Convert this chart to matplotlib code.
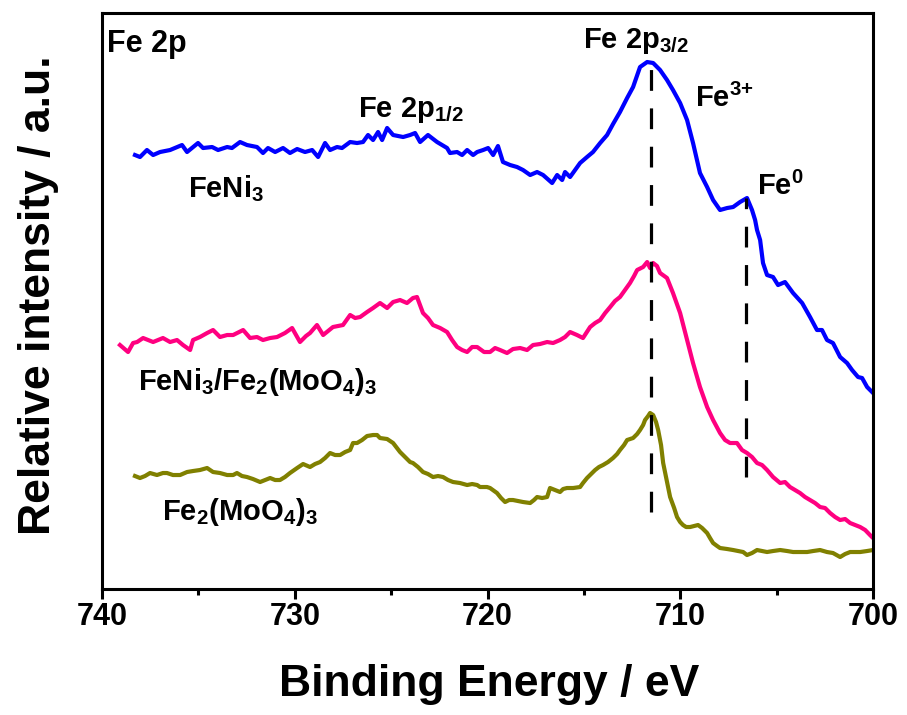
import numpy as np
import matplotlib
matplotlib.use("Agg")
import matplotlib.pyplot as plt

plt.rcParams['font.family'] = ['Liberation Sans', 'DejaVu Sans']
plt.rcParams['font.weight'] = 'bold'
plt.rcParams['mathtext.fontset'] = 'custom'
plt.rcParams['mathtext.rm'] = 'Liberation Sans:bold'
plt.rcParams['mathtext.bf'] = 'Liberation Sans:bold'
plt.rcParams['mathtext.default'] = 'bf'

# --- data (binding energy in eV, intensity in a.u.) ---
feni3_be = [738.29, 738.03, 737.67, 737.35, 736.99, 736.47, 735.85, 735.59, 735.02, 734.76,
            734.29, 733.98, 733.51, 733.26, 732.84, 732.48, 731.96, 731.65, 731.39, 731.02,
            730.61, 730.25, 729.88, 729.47, 729.10, 728.79, 728.43, 728.17, 727.81, 727.55,
            727.13, 726.77, 726.46, 726.20, 725.94, 725.68, 725.47, 725.21, 724.90, 724.38,
            724.02, 723.76, 723.50, 723.09, 722.62, 722.10, 721.95, 721.58, 721.32, 721.06,
            720.75, 720.54, 720.23, 719.97, 719.71, 719.46, 719.20, 718.83, 718.47, 718.16,
            717.79, 717.43, 717.12, 716.65, 716.39, 716.13, 715.98, 715.72, 715.46, 715.20,
            714.84, 714.53, 714.16, 713.80, 713.49, 713.13, 712.76, 712.45, 712.09, 711.72,
            711.41, 711.05, 710.69, 710.38, 710.01, 709.65, 709.34, 708.98, 708.61, 708.30,
            707.94, 707.57, 707.26, 706.90, 706.54, 706.28, 706.12, 706.02, 705.86, 705.71,
            705.50, 705.19, 704.93, 704.57, 704.15, 703.68, 703.27, 702.91, 702.65, 702.39,
            702.08, 701.71, 701.35, 701.09, 700.78, 700.57, 700.31, 700.00]
feni3_int = [434, 432, 439, 434, 437, 439, 444, 437, 446, 441,
             442, 439, 442, 441, 447, 444, 442, 436, 441, 437,
             441, 436, 440, 437, 439, 432, 446, 439, 442, 441,
             447, 446, 447, 454, 449, 457, 449, 461, 454, 452,
             454, 456, 447, 454, 447, 441, 436, 437, 434, 439,
             434, 437, 439, 441, 434, 443, 427, 424, 422, 419,
             414, 417, 414, 406, 414, 409, 417, 412, 419, 426,
             432, 437, 446, 454, 465, 477, 491, 502, 522, 527,
             526, 519, 509, 499, 486, 469, 446, 416, 402, 389,
             379, 381, 382, 387, 391, 379, 369, 359, 349, 326,
             314, 312, 304, 307, 296, 286, 272, 259, 259, 249,
             246, 232, 226, 219, 212, 211, 202, 196]

composite_be = [739.07, 738.65, 738.39, 738.18, 737.87, 737.35, 736.84, 736.47, 736.11, 735.80,
                735.43, 735.28, 734.92, 734.55, 734.24, 733.88, 733.51, 733.20, 732.68, 732.32,
                731.96, 731.65, 731.28, 730.92, 730.51, 730.14, 729.73, 729.42, 729.21, 728.85,
                728.53, 728.02, 727.50, 727.13, 726.87, 726.61, 726.25, 725.94, 725.58, 725.21,
                724.90, 724.54, 724.18, 723.87, 723.66, 723.35, 723.09, 722.83, 722.46, 722.10,
                721.84, 721.58, 721.32, 721.06, 720.80, 720.54, 720.18, 719.87, 719.61, 719.35,
                718.99, 718.68, 718.31, 717.95, 717.64, 717.28, 716.91, 716.60, 716.24, 715.98,
                715.72, 715.36, 715.05, 714.68, 714.42, 714.16, 713.90, 713.64, 713.39, 713.13,
                712.87, 712.61, 712.40, 712.24, 711.93, 711.72, 711.57, 711.41, 711.21, 711.05,
                710.69, 710.38, 710.01, 709.65, 709.34, 708.98, 708.61, 708.30, 707.94, 707.68,
                707.42, 707.06, 706.80, 706.54, 706.28, 706.02, 705.76, 705.50, 705.19, 704.82,
                704.57, 704.31, 704.05, 703.79, 703.53, 703.27, 703.01, 702.75, 702.49, 702.23,
                701.97, 701.71, 701.45, 701.19, 700.93, 700.67, 700.41, 700.16, 700.00]
composite_int = [244, 237, 246, 247, 251, 247, 251, 247, 249, 244,
                 239, 249, 252, 256, 259, 252, 254, 254, 259, 251,
                 252, 249, 251, 252, 256, 261, 247, 253, 256, 264,
                 254, 262, 264, 274, 271, 272, 277, 281, 286, 281,
                 287, 289, 286, 291, 292, 276, 271, 264, 261, 257,
                 249, 242, 239, 237, 242, 242, 237, 237, 241, 239,
                 236, 240, 241, 239, 244, 245, 247, 246, 249, 252,
                 257, 254, 251, 262, 266, 269, 276, 282, 288, 292,
                 299, 306, 313, 319, 322, 327, 321, 326, 323, 316,
                 311, 296, 276, 249, 226, 202, 182, 169, 156, 149,
                 146, 146, 139, 136, 132, 126, 124, 119, 112, 106,
                 107, 102, 99, 96, 92, 89, 86, 82, 81, 76,
                 72, 69, 70, 66, 64, 62, 59, 54, 51]

femoo_be = [738.29, 738.03, 737.77, 737.51, 737.15, 736.84, 736.63, 736.32, 735.95, 735.59,
            735.28, 734.92, 734.55, 734.24, 733.88, 733.51, 733.20, 733.00, 732.74, 732.48,
            732.17, 731.80, 731.54, 731.28, 731.02, 730.77, 730.51, 730.25, 729.88, 729.57,
            729.21, 728.95, 728.69, 728.43, 728.17, 727.91, 727.65, 727.39, 727.13, 726.98,
            726.77, 726.51, 726.25, 725.94, 725.73, 725.58, 725.21, 724.90, 724.54, 724.28,
            724.02, 723.87, 723.61, 723.35, 723.09, 722.83, 722.57, 722.31, 722.05, 721.79,
            721.43, 721.06, 720.80, 720.54, 720.39, 720.03, 719.87, 719.51, 719.30, 719.09,
            718.88, 718.68, 718.42, 718.16, 717.79, 717.59, 717.43, 717.17, 716.91, 716.76,
            716.50, 716.24, 716.08, 715.88, 715.56, 715.20, 715.05, 714.84, 714.63, 714.42,
            714.22, 714.01, 713.75, 713.49, 713.28, 713.13, 712.92, 712.76, 712.61, 712.45,
            712.24, 712.09, 711.93, 711.83, 711.67, 711.57, 711.41, 711.26, 711.15, 711.00,
            710.89, 710.69, 710.53, 710.32, 710.17, 710.01, 709.86, 709.70, 709.49, 709.29,
            709.08, 708.87, 708.61, 708.46, 708.30, 708.09, 707.94, 707.57, 707.26, 707.00,
            706.74, 706.54, 706.28, 706.02, 705.76, 705.50, 705.19, 704.82, 704.46, 704.15,
            703.79, 703.42, 703.11, 702.75, 702.39, 702.08, 701.71, 701.45, 701.19, 700.93,
            700.67, 700.31, 700.00]
femoo_int = [113, 111, 113, 116, 114, 116, 116, 114, 114, 117,
             118, 119, 121, 117, 116, 114, 114, 116, 113, 112,
             110, 107, 109, 111, 109, 109, 112, 116, 121, 125,
             122, 125, 127, 131, 136, 134, 134, 137, 139, 146,
             146, 149, 153, 154, 154, 151, 150, 146, 137, 132,
             127, 126, 122, 117, 115, 112, 113, 112, 109, 107,
             106, 104, 105, 104, 102, 102, 101, 96, 91, 87,
             89, 89, 88, 87, 86, 89, 92, 91, 92, 101,
             99, 97, 100, 101, 101, 102, 106, 111, 115, 119,
             122, 124, 127, 131, 135, 139, 144, 149, 150, 151,
             155, 159, 164, 169, 173, 176, 174, 167, 159, 144,
             126, 107, 92, 81, 72, 67, 64, 62, 62, 63,
             64, 61, 56, 51, 46, 43, 41, 40, 39, 38,
             37, 34, 36, 39, 38, 37, 38, 39, 38, 37,
             37, 37, 38, 39, 37, 36, 32, 35, 37, 37,
             37, 38, 39]

# peak markers: (position, top, bottom)
peak_be = [711.5, 706.6]
peak_top = [527, 391]
peak_bottom = [77, 112]

fig = plt.figure(figsize=(9.07, 7.15), dpi=100)
ax = fig.add_axes([0.1125, 0.1762, 0.8501, 0.8056])

ax.plot(feni3_be, feni3_int, color='#0000ff', lw=3)
ax.plot(composite_be, composite_int, color='#ff0080', lw=3)
ax.plot(femoo_be, femoo_int, color='#808000', lw=3)

for be, top, bot in zip(peak_be, peak_top, peak_bottom):
    ax.plot([be, be], [bot, top], color='black', lw=2.3, dashes=(6.5, 5.5))

ax.set_xlim(740, 700)
ax.set_ylim(0, 576)
ax.set_xticks([740, 730, 720, 710, 700])
ax.set_xticks([735, 725, 715, 705], minor=True)
ax.set_yticks([])
ax.tick_params(axis='x', which='major', direction='out', length=7, width=2.2,
               labelsize=22, pad=2)
ax.tick_params(axis='x', which='minor', direction='out', length=4, width=2.2)
for sp in ax.spines.values():
    sp.set_linewidth(2.2)

ax.set_xlabel('Binding Energy / eV', fontsize=32, fontweight='bold')
ax.xaxis.set_label_coords(0.502, -0.13)
ax.set_ylabel('Relative intensity / a.u.', fontsize=32, fontweight='bold')
ax.yaxis.set_label_coords(-0.056, 0.51)

fs = 21
ax.text(739.74, 537, 'Fe 2p', fontsize=fs + 1, va='baseline')
ax.text(726.72, 472, 'Fe 2p$_{1/2}$', fontsize=fs, va='baseline')
ax.text(715.05, 541, 'Fe 2p$_{3/2}$', fontsize=fs, va='baseline')
ax.text(709.23, 482, 'Fe$^{3{+}}$', fontsize=fs, va='baseline')
ax.text(706.02, 394, 'Fe$^{0}$', fontsize=fs, va='baseline')
ax.text(735.54, 392, 'FeNi$_3$', fontsize=fs, va='baseline')
ax.text(738.13, 199, 'FeNi$_3$/Fe$_2$(MoO$_4$)$_3$', fontsize=fs, va='baseline')
ax.text(736.89, 69, 'Fe$_2$(MoO$_4$)$_3$', fontsize=fs, va='baseline')

fig.savefig('out.png', dpi=100)
